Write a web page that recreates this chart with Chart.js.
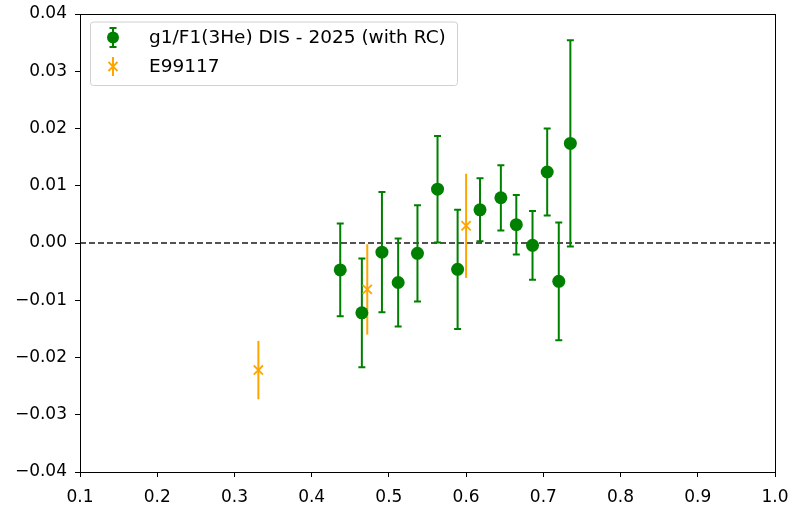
<!DOCTYPE html>
<html>
<head>
<meta charset="utf-8">
<script src="https://cdn.jsdelivr.net/npm/chart.js@4/dist/chart.umd.min.js"></script>
<style>
  html, body { margin: 0; padding: 0; background: #ffffff; }
  #wrap { width: 789px; height: 508px; }
</style>
</head>
<body>
<div id="wrap"><canvas id="c" width="789" height="508"></canvas></div>
<script>
// g1/F1 of 3He, DIS 2025 analysis (with radiative corrections)
const disX   = [0.437, 0.465, 0.491, 0.512, 0.537, 0.563, 0.589, 0.618, 0.645, 0.665, 0.686, 0.705, 0.720, 0.735];
const disY   = [-0.0047, -0.0122, -0.0016, -0.0069, -0.0018, 0.0094, -0.0046, 0.0058, 0.0079, 0.0032, -0.0004, 0.0124, -0.0067, 0.0174];
const disErr = [0.0081, 0.0095, 0.0105, 0.0077, 0.0084, 0.0093, 0.0104, 0.0055, 0.0057, 0.0052, 0.0060, 0.0076, 0.0103, 0.0180];

// E99-117 results
const e99X   = [0.331, 0.472, 0.600];
const e99Y   = [-0.0222, -0.0081, 0.0030];
const e99Err = [0.0051, 0.0079, 0.0091];

const xTicks = [0.1, 0.2, 0.3, 0.4, 0.5, 0.6, 0.7, 0.8, 0.9, 1.0];
const yTicks = [-0.04, -0.03, -0.02, -0.01, 0.00, 0.01, 0.02, 0.03, 0.04];

const seriesLabels = ['g1/F1(3He) DIS - 2025 (with RC)', 'E99117'];
const GREEN = '#008000';
const ORANGE = '#FFA500';
const FONT = 'DejaVu Sans';

const toPoints = (xs, ys) => xs.map((x, i) => ({ x: x, y: ys[i] }));

// vertical error bars, drawn beneath the markers
const errorBars = {
  id: 'errorBars',
  beforeDatasetsDraw(chart) {
    const { ctx, scales: { x, y } } = chart;
    chart.data.datasets.forEach((ds) => {
      if (!ds.errors) return;
      ctx.save();
      ctx.strokeStyle = ds.barColor;
      ctx.lineWidth = 2;
      ds.data.forEach((p, i) => {
        const px = x.getPixelForValue(p.x);
        const top = y.getPixelForValue(p.y + ds.errors[i]);
        const bot = y.getPixelForValue(p.y - ds.errors[i]);
        ctx.beginPath();
        ctx.moveTo(px, top);
        ctx.lineTo(px, bot);
        if (ds.capHalf > 0) {
          ctx.moveTo(px - ds.capHalf, top);
          ctx.lineTo(px + ds.capHalf, top);
          ctx.moveTo(px - ds.capHalf, bot);
          ctx.lineTo(px + ds.capHalf, bot);
        }
        ctx.stroke();
      });
      ctx.restore();
    });
  }
};

// dashed reference line at zero and the frame around the plot
const frameAndZero = {
  id: 'frameAndZero',
  beforeDatasetsDraw(chart) {
    const { ctx, chartArea: a, scales: { y } } = chart;
    const y0 = y.getPixelForValue(0);
    ctx.save();
    ctx.strokeStyle = '#1a1a1a';
    ctx.lineWidth = 1.5;
    ctx.setLineDash([6, 3]);
    ctx.beginPath();
    ctx.moveTo(a.left, y0);
    ctx.lineTo(a.right, y0);
    ctx.stroke();
    ctx.restore();
  },
  afterDraw(chart) {
    const { ctx, chartArea: a } = chart;
    ctx.save();
    ctx.strokeStyle = '#000';
    ctx.lineWidth = 1;
    ctx.strokeRect(Math.round(a.left) + 0.5, Math.round(a.top) + 0.5,
                   Math.round(a.right - a.left), Math.round(a.bottom - a.top));
    ctx.restore();
  }
};

// legend box inside the upper-left corner of the plot
const insetLegend = {
  id: 'insetLegend',
  afterDraw(chart) {
    const { ctx, chartArea: a } = chart;
    const bx = a.left + 10, by = a.top + 7.5, bw = 367, bh = 63.5;
    ctx.save();
    ctx.beginPath();
    ctx.roundRect(bx + 0.5, by + 0.5, bw, bh, 3);
    ctx.fillStyle = 'rgba(255,255,255,0.8)';
    ctx.fill();
    ctx.strokeStyle = '#d0d0d0';
    ctx.lineWidth = 1;
    ctx.stroke();

    const mx = bx + 23;
    const rows = [by + 16, by + 45];
    // series 1: circle with capped bar
    ctx.strokeStyle = GREEN;
    ctx.lineWidth = 2;
    ctx.beginPath();
    ctx.moveTo(mx, rows[0] - 9.5); ctx.lineTo(mx, rows[0] + 9.5);
    ctx.moveTo(mx - 3.5, rows[0] - 9.5); ctx.lineTo(mx + 3.5, rows[0] - 9.5);
    ctx.moveTo(mx - 3.5, rows[0] + 9.5); ctx.lineTo(mx + 3.5, rows[0] + 9.5);
    ctx.stroke();
    ctx.fillStyle = GREEN;
    ctx.beginPath();
    ctx.arc(mx, rows[0], 6, 0, Math.PI * 2);
    ctx.fill();
    // series 2: x marker with bar
    ctx.strokeStyle = ORANGE;
    ctx.beginPath();
    ctx.moveTo(mx, rows[1] - 9.5); ctx.lineTo(mx, rows[1] + 9.5);
    ctx.stroke();
    ctx.lineWidth = 1.8;
    ctx.beginPath();
    ctx.moveTo(mx - 4.5, rows[1] - 4.5); ctx.lineTo(mx + 4.5, rows[1] + 4.5);
    ctx.moveTo(mx - 4.5, rows[1] + 4.5); ctx.lineTo(mx + 4.5, rows[1] - 4.5);
    ctx.stroke();

    ctx.fillStyle = '#000';
    ctx.font = '18.5px "' + FONT + '"';
    ctx.textBaseline = 'middle';
    ctx.textAlign = 'left';
    ctx.fillText(seriesLabels[0], bx + 59, rows[0] + 1);
    ctx.fillText(seriesLabels[1], bx + 59, rows[1] + 1);
    ctx.restore();
  }
};

const fmt = (v, d) => {
  const s = Number(v).toFixed(d);
  return s.startsWith('-') ? '\u2212' + s.slice(1) : s;
};

new Chart(document.getElementById('c'), {
  type: 'scatter',
  data: {
    datasets: [
      {
        label: seriesLabels[0],
        data: toPoints(disX, disY),
        errors: disErr,
        barColor: GREEN,
        capHalf: 3.5,
        pointStyle: 'circle',
        pointRadius: 6.5,
        pointHoverRadius: 6.5,
        backgroundColor: GREEN,
        borderColor: GREEN,
        borderWidth: 0
      },
      {
        label: seriesLabels[1],
        data: toPoints(e99X, e99Y),
        errors: e99Err,
        barColor: ORANGE,
        capHalf: 0,
        pointStyle: 'crossRot',
        pointRadius: 6.5,
        pointHoverRadius: 6.5,
        backgroundColor: ORANGE,
        borderColor: ORANGE,
        borderWidth: 1.8
      }
    ]
  },
  options: {
    responsive: false,
    animation: false,
    devicePixelRatio: 1,
    layout: { padding: { top: 14, right: 14, left: 0, bottom: 0 } },
    plugins: {
      legend: { display: false },
      tooltip: { enabled: false }
    },
    scales: {
      x: {
        type: 'linear',
        min: xTicks[0],
        max: xTicks[xTicks.length - 1],
        afterBuildTicks: (s) => { s.ticks = xTicks.map(v => ({ value: v })); },
        afterFit: (s) => { s.height = 36; s.paddingLeft = 0; s.paddingRight = 0; },
        grid: { drawOnChartArea: false, tickLength: 5, tickColor: '#000', tickWidth: 1 },
        border: { color: '#000', width: 1 },
        ticks: {
          padding: 10,
          color: '#000',
          font: { family: FONT, size: 17 },
          maxRotation: 0,
          autoSkip: false,
          callback: (v) => fmt(v, 1)
        }
      },
      y: {
        type: 'linear',
        min: yTicks[0],
        max: yTicks[yTicks.length - 1],
        afterBuildTicks: (s) => { s.ticks = yTicks.map(v => ({ value: v })); },
        afterFit: (s) => { s.width = 80; s.paddingTop = 0; s.paddingBottom = 0; },
        grid: { drawOnChartArea: false, tickLength: 5, tickColor: '#000', tickWidth: 1 },
        border: { color: '#000', width: 1 },
        ticks: {
          padding: 8,
          color: '#000',
          font: { family: FONT, size: 17 },
          autoSkip: false,
          callback: (v) => fmt(v, 2)
        }
      }
    }
  },
  plugins: [frameAndZero, errorBars, insetLegend]
});
</script>
</body>
</html>
